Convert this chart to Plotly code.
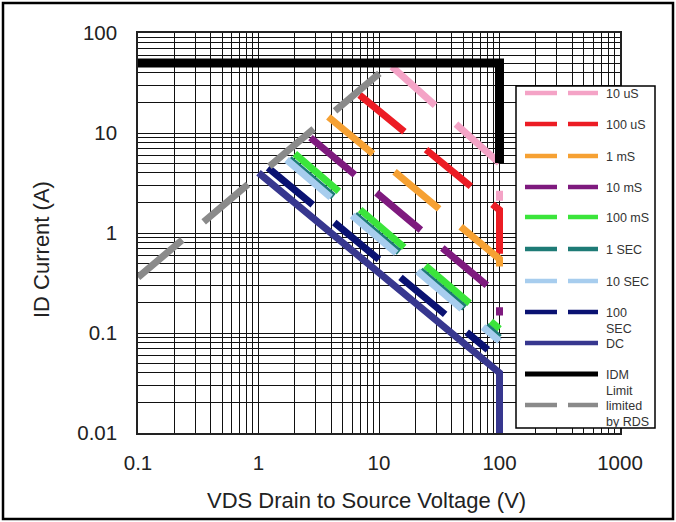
import plotly.graph_objects as go

# ---------------- data ----------------
series_names = ["10 uS", "100 uS", "1 mS", "10 mS", "100 mS", "1 SEC",
                "10 SEC", "100 SEC", "DC", "IDM Limit", "limited by RDS"]
legend_labels = ["10 uS", "100 uS", "1 mS", "10 mS", "100 mS", "1 SEC",
                 "10 SEC", "100<br>SEC", "DC", "IDM<br>Limit", "limited<br>by RDS"]

v_10us = [12.8, 92, 100, 100];   i_10us = [46, 5.5, 5.0, 2.1]
v_100us = [6.9, 75, 100, 100];   i_100us = [24, 2.2, 1.7, 0.62]
v_1ms = [3.8, 92, 100, 100];     i_1ms = [14.5, 0.6, 0.55, 0.28]
v_10ms = [2.7, 83, 100, 100];    i_10ms = [9.0, 0.29, 0.235, 0.15]
v_100ms = [2.0, 100];            i_100ms = [6.2, 0.11]
v_1s = [1.8, 100];               i_1s = [5.5, 0.09]
v_10s = [1.71, 100];             i_10s = [5.4, 0.083]
v_100s = [1.2, 80];              i_100s = [4.5, 0.068]
v_dc = [1, 100, 100];            i_dc = [4, 0.04, 0.01]
v_idm = [0.1, 100, 100];         i_idm = [50, 50, 5]
v_rds = [0.1, 12.7];             i_rds = [0.36, 50]

xs = [v_10us, v_100us, v_1ms, v_10ms, v_100ms, v_1s, v_10s, v_100s, v_dc, v_idm, v_rds]
ys = [i_10us, i_100us, i_1ms, i_10ms, i_100ms, i_1s, i_10s, i_100s, i_dc, i_idm, i_rds]

colors = ["#F4A3C6", "#EC1C24", "#F6A133", "#7E1A7E", "#3BE53B", "#1E7B76",
          "#A7CDEE", "#0A1272", "#37378F", "#000000", "#8A8A8A"]
dashed = [True, True, True, True, True, True, True, True, False, False, True]
widths = [7, 7, 7, 7, 7, 7, 7, 7, 7, 9, 7]

x_tick_decades = [0.1, 1, 10, 100, 1000]
x_tick_labels = ["0.1", "1", "10", "100", "1000"]
y_tick_decades = [0.01, 0.1, 1, 10, 100]
y_tick_labels = ["0.01", "0.1", "1", "10", "100"]

x_title = "VDS Drain to Source Voltage (V)"
y_title = "ID Current (A)"

# ---------------- layout geometry (pixels) ----------------
W, H = 676, 522
L, R, T, B = 138, 620, 33, 433


def px_x(p):
    return (p - L) / (R - L)


def px_y(p):
    return (B - p) / (B - T)


def grid_ticks(decades, labels):
    vals, texts = [], []
    for k, (d, lab) in enumerate(zip(decades, labels)):
        vals.append(d)
        texts.append(lab)
        if k < len(decades) - 1:
            for m in range(2, 10):
                vals.append(round(d * m, 6))
                texts.append("")
    return vals, texts


xv, xt = grid_ticks(x_tick_decades, x_tick_labels)
yv, yt = grid_ticks(y_tick_decades, y_tick_labels)

fig = go.Figure()
for name, x, y, c, dsh, w in zip(series_names, xs, ys, colors, dashed, widths):
    fig.add_trace(go.Scatter(
        x=x, y=y, name=name, mode="lines",
        line=dict(color=c, width=w, dash="58px,28px" if dsh else "solid"),
        showlegend=False, hoverinfo="x+y+name"))

font_fam = "Arial, 'Liberation Sans', sans-serif"

shapes = []
annotations = []
# outer frame
shapes.append(dict(type="rect", xref="paper", yref="paper",
                   x0=px_x(3), x1=px_x(673), y0=px_y(519), y1=px_y(3),
                   line=dict(color="black", width=2.5), layer="above"))
# legend box
shapes.append(dict(type="rect", xref="paper", yref="paper",
                   x0=px_x(516), x1=px_x(655), y0=px_y(428), y1=px_y(86),
                   line=dict(color="black", width=1.5), fillcolor="white",
                   layer="above"))
legend_line_y = [93, 124, 156, 187, 217, 249, 281, 312, 343, 374, 405]
for lab, c, dsh, ly in zip(legend_labels, colors, dashed, legend_line_y):
    lw = 5 if c == "#000000" else 4.5
    segs = [(525, 557), (568, 598)] if dsh else [(525, 598)]
    for a, b in segs:
        shapes.append(dict(type="line", xref="paper", yref="paper",
                           x0=px_x(a), x1=px_x(b), y0=px_y(ly), y1=px_y(ly),
                           line=dict(color=c, width=lw), layer="above"))
    annotations.append(dict(xref="paper", yref="paper", x=px_x(604),
                            y=px_y(ly - 8), xanchor="left", yanchor="top",
                            text=lab, showarrow=False, align="left",
                            font=dict(family=font_fam, size=12.5, color="#333")))

# axis titles
annotations.append(dict(xref="paper", yref="paper", x=px_x(366), y=px_y(500),
                        xanchor="center", yanchor="middle", text=x_title,
                        showarrow=False,
                        font=dict(family=font_fam, size=22, color="#222")))
annotations.append(dict(xref="paper", yref="paper", x=px_x(41), y=px_y(250),
                        xanchor="center", yanchor="middle", text=y_title,
                        textangle=-90, showarrow=False,
                        font=dict(family=font_fam, size=22, color="#222")))

axis_common = dict(
    type="log", showgrid=True, gridcolor="#111", gridwidth=1.3,
    showline=True, linecolor="#222", linewidth=1.5, mirror=True,
    zeroline=False, ticks="outside", tickcolor="rgba(0,0,0,0)",
    tickfont=dict(family=font_fam, size=20.5, color="#222"),
)

fig.update_layout(
    width=W, height=H,
    margin=dict(l=L, r=W - R, t=T, b=H - B),
    paper_bgcolor="white", plot_bgcolor="white",
    showlegend=False,
    shapes=shapes, annotations=annotations,
    xaxis=dict(axis_common, range=[-1, 3], tickmode="array",
               tickvals=xv, ticktext=xt, ticklen=11),
    yaxis=dict(axis_common, range=[-2, 2], tickmode="array",
               tickvals=yv, ticktext=yt, ticklen=15),
)

fig.write_html("out.html", config={"displayModeBar": False},
               post_script="document.body.style.margin='0';")
